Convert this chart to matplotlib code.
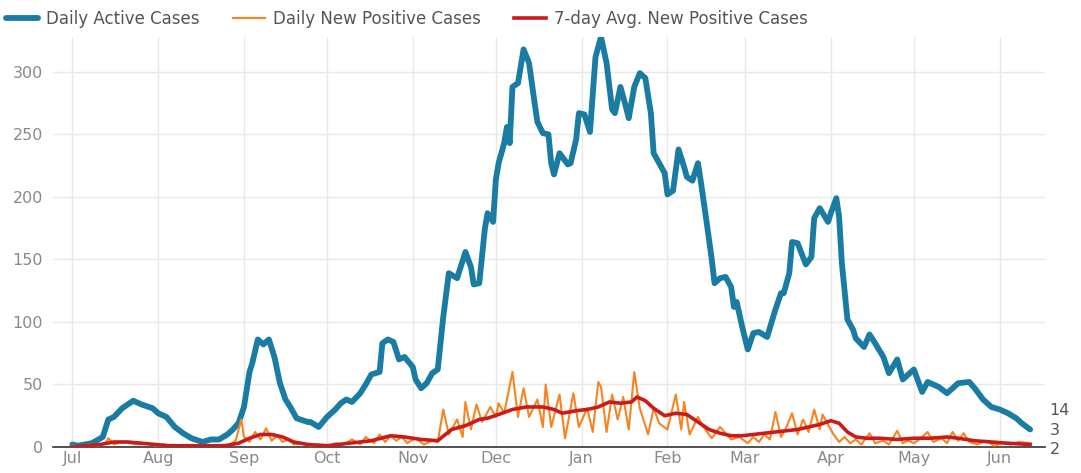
import numpy as np
import pandas as pd
from matplotlib import pyplot as plt

# values; day = days since 1 Jul 2020
start = pd.Timestamp("2020-07-01")

active_day = [0, 2, 7, 11, 13, 15, 18, 22, 25, 29, 31, 34, 37, 40, 43, 47, 50, 53, 56, 58,
              60, 62, 64, 65, 67, 69, 71, 73, 75, 77, 79, 81, 85, 86, 89, 92, 95, 97, 99, 101,
              104, 106, 108, 111, 112, 114, 116, 118, 120, 123, 124, 126, 128, 130, 132, 134,
              136, 139, 142, 144, 145, 147, 149, 150, 152, 153, 154, 156, 157, 158, 159, 161,
              163, 165, 166, 167, 168, 170, 172, 173, 174, 176, 179, 180, 182, 183, 185, 187,
              189, 191, 193, 195, 196, 198, 200, 201, 203, 205, 207, 209, 210, 212, 214, 215,
              217, 219, 221, 222, 224, 226, 227, 229, 231, 232, 234, 236, 238, 239, 240, 242,
              244, 246, 248, 251, 254, 256, 257, 259, 260, 262, 265, 267, 268, 270, 273, 274,
              276, 277, 278, 280, 282, 283, 286, 288, 290, 293, 295, 298, 300, 304, 307, 309,
              313, 316, 320, 324, 326, 329, 332, 335, 338, 341, 343, 346]
active = [2, 1, 3, 8, 22, 24, 31, 37, 34, 31, 27, 24, 16, 11, 7, 4, 6, 6, 10, 14,
          19, 32, 60, 67, 86, 82, 86, 72, 51, 38, 31, 23, 20, 20, 16, 24, 30, 35, 38, 36,
          43, 50, 58, 60, 83, 86, 84, 70, 72, 64, 54, 47, 51, 59, 62, 104,
          139, 135, 156, 144, 130, 131, 174, 187, 180, 214, 227, 243, 256, 243, 288, 291,
          318, 307, 291, 275, 260, 251, 250, 227, 218, 235, 226, 227, 246, 267, 266, 252,
          312, 328, 307, 270, 267, 288, 272, 263, 288, 299, 295, 267, 235, 227, 219, 202,
          205, 238, 224, 216, 213, 227, 213, 182, 150, 131, 135, 136, 128, 112, 116, 96,
          78, 91, 92, 88, 110, 123, 123, 139, 164, 163, 146, 152, 183, 191, 180, 187,
          199, 184, 147, 102, 94, 87, 80, 90, 83, 72, 59, 70, 54, 62, 44, 52,
          48, 43, 51, 52, 47, 38, 32, 30, 27, 23, 19, 14]

new_day = [0, 3, 6, 9, 12, 13, 15, 18, 21, 24, 27, 30, 33, 36, 39, 42, 45, 48, 51, 54,
           57, 59, 61, 62, 64, 66, 68, 70, 72, 74, 76, 78, 80, 83, 86, 89, 92, 95, 98, 101,
           104, 106, 109, 111, 113, 115, 117, 119, 121, 124, 127, 130, 132,
           134, 136, 139, 141, 142, 144, 146, 148, 151, 153, 154, 156, 159, 161, 163, 165,
           168, 170, 171, 173, 176, 178, 181, 183, 186, 188, 190, 191, 193, 195, 197, 199,
           201, 203, 205, 208, 210, 212, 215, 218, 220, 221, 223, 226, 228, 231, 234, 238,
           241, 244, 246, 248, 250, 252, 254, 256, 258, 260, 262, 264, 266, 268, 270, 271,
           273, 275, 277, 279, 281, 283, 285, 288, 290, 293, 295, 298, 300, 302, 304, 306,
           309, 311, 314, 316, 318, 320, 322, 324, 327, 330, 333, 336, 339, 342, 346]
new_pos = [1, 0, 2, 1, 3, 7, 2, 4, 3, 2, 3, 1, 2, 1, 0, 1, 0, 1, 0, 1,
           2, 5, 22, 8, 4, 12, 6, 15, 5, 9, 4, 6, 2, 3, 1, 2, 0, 3, 2, 6,
           2, 8, 3, 10, 4, 9, 5, 8, 3, 7, 2, 5, 4,
           30, 10, 22, 8, 36, 14, 34, 20, 32, 24, 35, 27, 60, 24, 47, 24,
           38, 16, 50, 16, 42, 7, 43, 16, 31, 12, 52, 48, 12, 42, 22, 40,
           14, 60, 31, 10, 31, 19, 14, 42, 14, 36, 10, 24, 16, 7, 16, 6,
           8, 3, 8, 4, 10, 6, 28, 8, 16, 27, 10, 22, 12, 30, 14, 26,
           18, 10, 4, 8, 3, 6, 2, 11, 3, 5, 2, 13, 3, 5, 3, 6,
           12, 4, 7, 3, 12, 5, 11, 4, 2, 5, 1, 3, 2, 4, 3]

avg_day = [0, 5, 10, 15, 20, 25, 30, 35, 45, 55, 60, 64, 68, 72, 76, 80, 85, 92, 100, 108,
           115, 120, 126, 132, 137, 142, 147, 150, 154, 159, 164, 170, 174, 177, 182, 186,
           190, 194, 198, 202, 204, 207, 210, 214, 218, 222, 226, 230, 234, 238, 242, 246,
           250, 254, 258, 262, 266, 270, 274, 277, 280, 283, 287, 292, 298, 304, 310, 316,
           320, 326, 332, 338, 346]
avg_pos = [0, 1, 2, 4, 4, 3, 2, 1, 1, 1, 3, 7, 10, 10, 8, 4, 2, 1, 3, 5,
           9, 8, 6, 5, 14, 17, 22, 23, 26, 30, 32, 32, 30, 27, 29, 30,
           32, 36, 35, 36, 40, 37, 31, 25, 27, 26, 20, 14, 11, 9, 9, 10,
           11, 12, 13, 14, 16, 18, 21, 19, 12, 8, 7, 7, 6, 7, 7, 8,
           7, 5, 4, 3, 2]

months = ["Jul", "Aug", "Sep", "Oct", "Nov", "Dec", "Jan", "Feb", "Mar", "Apr", "May", "Jun"]
end_labels = ["14", "3", "2"]

blue = "#1b7ca3"
orange = "#f7841f"
red = "#cc1a1a"

def dates(d):
    return start + pd.to_timedelta(d, unit="D")

fig = plt.figure(figsize=(10.81, 4.73), dpi=100)
ax = fig.add_axes([0.049, 0.055, 0.918, 0.867])

l1, = ax.plot(dates(active_day), active, color=blue, lw=4.2, solid_capstyle="round",
              solid_joinstyle="round", zorder=3, label="Daily Active Cases")
l2, = ax.plot(dates(new_day), new_pos, color=orange, lw=1.5, zorder=4,
              label="Daily New Positive Cases")
l3, = ax.plot(dates(avg_day), avg_pos, color=red, lw=2.6, solid_joinstyle="round",
              zorder=5, label="7-day Avg. New Positive Cases")

ax.set_ylim(0, 328)
ax.set_xlim(dates(-7), dates(351.5))
ax.set_yticks(np.arange(0, 301, 50))
mticks = pd.date_range("2020-07-01", periods=12, freq="MS")
ax.set_xticks(mticks)
ax.set_xticklabels(months)

ax.grid(True, color="#e8e8e8", lw=1)
ax.set_axisbelow(True)
for s in ["top", "right", "left"]:
    ax.spines[s].set_visible(False)
ax.spines["bottom"].set_color("#333333")
ax.spines["bottom"].set_linewidth(1.2)
ax.tick_params(length=0, labelsize=11.5, labelcolor="#8a8a8a")
ax.tick_params(axis="y", pad=7)
ax.tick_params(axis="x", pad=3)

# end-of-series value labels
for txt, yv in zip(end_labels, [29, 13, -2]):
    ax.text(dates(353), yv, txt, fontsize=11.5, color="#555555", va="center", ha="left",
            clip_on=False)

fig.legend(handles=[l1, l2, l3], loc="upper left", bbox_to_anchor=(-0.008, 1.01), ncol=3,
           frameon=False, fontsize=12, handlelength=1.9, columnspacing=2.0,
           handletextpad=0.5, labelcolor="#555555")

fig.savefig("out.png", dpi=100)
